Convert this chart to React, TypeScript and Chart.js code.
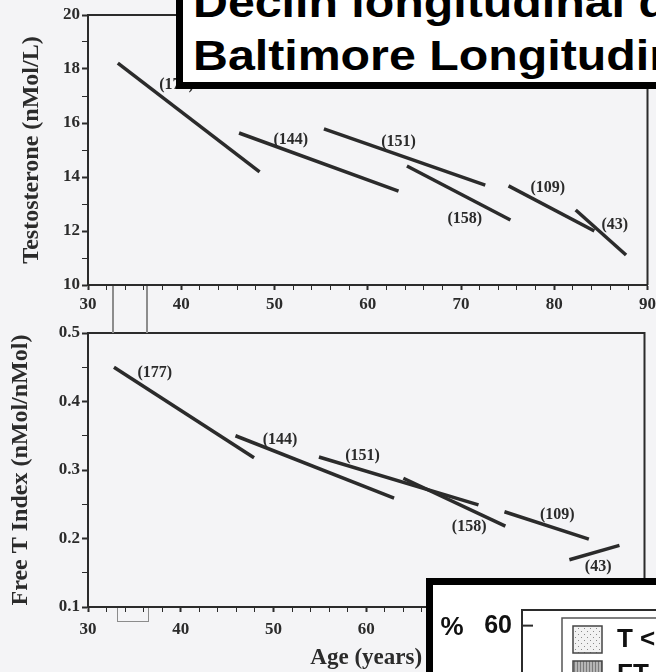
import React, { useEffect, useRef } from 'react';
import { Chart, registerables } from 'chart.js';

Chart.register(...registerables);

// ---------- data ----------
const cohortLabels = ['(177)', '(144)', '(151)', '(158)', '(109)', '(43)'];

// Testosterone panel (age in years, T in nMol/L)
const tStartAge = [33.2, 46.2, 55.3, 64.2, 75.1, 82.3];
const tEndAge = [48.4, 63.3, 72.6, 75.3, 84.3, 87.7];
const tStart = [18.22, 15.63, 15.78, 14.41, 13.67, 12.78];
const tEnd = [14.19, 13.48, 13.7, 12.41, 12.0, 11.11];
const tLabelAge = [39.5, 51.75, 63.3, 70.4, 79.3, 86.5];
const tLabelValue = [17.41, 15.37, 15.3, 12.44, 13.59, 12.22];

// Free T index panel (nMol/nMol)
const fStartAge = [32.8, 45.9, 54.9, 64.0, 74.9, 81.9];
const fEndAge = [47.9, 63.0, 72.1, 75.0, 84.0, 87.3];
const fStart = [0.45, 0.35, 0.319, 0.288, 0.239, 0.169];
const fEnd = [0.318, 0.259, 0.249, 0.218, 0.199, 0.19];
const fLabelAge = [37.2, 50.7, 59.6, 71.1, 80.6, 85.0];
const fLabelValue = [0.4416, 0.344, 0.32, 0.217, 0.234, 0.158];

const ageTickLabels = [30, 40, 50, 60, 70, 80, 90];
const tTickLabels = [10, 12, 14, 16, 18, 20];
const fTickLabels = [0.1, 0.2, 0.3, 0.4, 0.5];

const titleLines = ['Declin longitudinal de la testostérone', 'Baltimore Longitudinal Study of Aging'];
const insetSeries = ['T <', 'FT <'];
const insetTickLabels = [60];

// ---------- styles ----------
const INK = '#2b2b2b';
const BG = '#f4f4f6';
const SERIF = 'Liberation Serif';
const SANS = 'Liberation Sans';

const framePlugin = {
  id: 'frame',
  afterDraw(chart: any) {
    const { ctx, chartArea: a } = chart;
    ctx.save();
    ctx.strokeStyle = INK;
    ctx.lineWidth = 2;
    ctx.beginPath();
    ctx.moveTo(a.left, a.top);
    ctx.lineTo(a.right, a.top);
    ctx.lineTo(a.right, a.bottom);
    ctx.stroke();
    ctx.restore();
  },
};

const cohortLabelPlugin = {
  id: 'cohortLabels',
  afterDatasetsDraw(chart: any, _args: any, opts: any) {
    if (!opts || !opts.texts) return;
    const { ctx } = chart;
    const x = chart.scales.x;
    const y = chart.scales.y;
    ctx.save();
    ctx.font = `bold 16px "${SERIF}"`;
    ctx.fillStyle = INK;
    ctx.textAlign = 'center';
    ctx.textBaseline = 'middle';
    opts.texts.forEach((t: string, i: number) => {
      ctx.fillText(t, x.getPixelForValue(opts.ages[i]), y.getPixelForValue(opts.values[i]));
    });
    ctx.restore();
  },
};

const near = (list: number[], v: number) => list.some((t) => Math.abs(t - v) < 1e-6);

type PanelProps = {
  top: number;
  height: number;
  startAges: number[];
  endAges: number[];
  starts: number[];
  ends: number[];
  labelAges: number[];
  labelValues: number[];
  yMin: number;
  yMax: number;
  yStep: number;
  yLabels: number[];
  yDecimals: number;
  yTitle: string;
  yTitlePad: number;
  xTitle: string | null;
  padTop: number;
  xHeight: number;
  xLabelPad: number;
};

const PANEL_W = 660;

function Panel(p: PanelProps) {
  const ref = useRef<HTMLCanvasElement | null>(null);
  useEffect(() => {
    if (!ref.current) return;
    const tickFont = { family: SERIF, size: 17, weight: 'bold' as const };
    const chart = new Chart(ref.current, {
      type: 'line',
      data: {
        datasets: p.startAges.map((sa, i) => ({
          label: cohortLabels[i],
          data: [
            { x: sa, y: p.starts[i] },
            { x: p.endAges[i], y: p.ends[i] },
          ],
          borderColor: INK,
          borderWidth: 3.5,
          pointRadius: 0,
          fill: false,
          tension: 0,
        })),
      },
      options: {
        responsive: false,
        animation: false,
        layout: { padding: { top: p.padTop, right: 4, left: 0, bottom: 0 } },
        plugins: {
          legend: { display: false },
          tooltip: { enabled: false },
          cohortLabels: { texts: cohortLabels, ages: p.labelAges, values: p.labelValues },
        } as any,
        scales: {
          x: {
            type: 'linear',
            min: 30,
            max: 90,
            ticks: {
              stepSize: 2,
              autoSkip: false,
              maxRotation: 0,
              minRotation: 0,
              padding: p.xLabelPad,
              color: INK,
              font: tickFont,
              callback: (v: any) => (near(ageTickLabels, Number(v)) ? String(v) : ''),
            },
            grid: {
              drawOnChartArea: false,
              drawTicks: true,
              tickLength: 5,
              tickColor: INK,
              tickWidth: (c: any) => (near(ageTickLabels, c.tick?.value) ? 2 : 1),
            },
            border: { color: INK, width: 2 },
            title: p.xTitle
              ? {
                  display: true,
                  text: p.xTitle,
                  color: INK,
                  font: { family: SERIF, size: 23, weight: 'bold' },
                  padding: { top: 0, bottom: 0 },
                }
              : { display: false },
            afterFit: (s: any) => {
              s.height = p.xHeight;
            },
          } as any,
          y: {
            type: 'linear',
            min: p.yMin,
            max: p.yMax,
            ticks: {
              stepSize: p.yStep,
              autoSkip: false,
              padding: 2,
              color: INK,
              font: tickFont,
              callback: (v: any) => (near(p.yLabels, Number(v)) ? Number(v).toFixed(p.yDecimals) : ''),
            },
            grid: {
              drawOnChartArea: false,
              drawTicks: true,
              tickLength: 6,
              tickColor: INK,
              tickWidth: (c: any) => (near(p.yLabels, c.tick?.value) ? 2 : 1),
            },
            border: { color: INK, width: 2 },
            title: {
              display: true,
              text: p.yTitle,
              color: INK,
              font: { family: SERIF, size: 24, weight: 'bold' },
              padding: { top: p.yTitlePad, bottom: 0 },
            },
            afterFit: (s: any) => {
              s.width = 88;
            },
          } as any,
        },
      },
      plugins: [framePlugin, cohortLabelPlugin],
    });
    return () => chart.destroy();
  }, []);
  return (
    <canvas
      ref={ref}
      width={PANEL_W}
      height={p.height}
      style={{ position: 'absolute', left: 0, top: p.top, width: PANEL_W, height: p.height }}
    />
  );
}

function makePattern(kind: 'dots' | 'stripes') {
  const c = document.createElement('canvas');
  const g = c.getContext('2d')!;
  if (kind === 'dots') {
    c.width = 6;
    c.height = 6;
    g.fillStyle = '#f2f2f2';
    g.fillRect(0, 0, 6, 6);
    g.fillStyle = '#8a8a8a';
    g.fillRect(1, 1, 1, 1);
    g.fillRect(4, 4, 1, 1);
  } else {
    c.width = 3;
    c.height = 3;
    g.fillStyle = '#b5b5b5';
    g.fillRect(0, 0, 3, 3);
    g.fillStyle = '#7a7a7a';
    g.fillRect(0, 0, 1, 3);
  }
  return g.createPattern(c, 'repeat');
}

const insetLegendPlugin = {
  id: 'insetLegend',
  afterDraw(chart: any) {
    const { ctx, chartArea: a } = chart;
    const y = chart.scales.y;
    ctx.save();
    // inward tick marks
    ctx.strokeStyle = INK;
    ctx.lineWidth = 2;
    y.ticks.forEach((t: any) => {
      const py = y.getPixelForValue(t.value);
      ctx.beginPath();
      ctx.moveTo(a.left, py);
      ctx.lineTo(a.left + 11, py);
      ctx.stroke();
    });
    // "%" unit label
    ctx.fillStyle = '#111';
    ctx.font = `bold 26px "${SANS}"`;
    ctx.textAlign = 'center';
    ctx.textBaseline = 'middle';
    ctx.fillText('%', 19, y.getPixelForValue(insetTickLabels[0]) + 2);
    // legend box
    const bx = a.left + 40;
    const by = a.top + 8;
    ctx.strokeStyle = '#555';
    ctx.lineWidth = 1.5;
    ctx.strokeRect(bx, by, 400, 200);
    chart.data.datasets.forEach((ds: any, i: number) => {
      const sx = bx + 11;
      const sy = by + 8 + i * 35;
      ctx.fillStyle = ds.backgroundColor;
      ctx.fillRect(sx, sy, 29, 27);
      ctx.strokeStyle = '#444';
      ctx.lineWidth = 1.5;
      ctx.strokeRect(sx, sy, 29, 27);
      ctx.fillStyle = '#111';
      ctx.textAlign = 'left';
      ctx.font = `bold 26px "${SANS}"`;
      ctx.fillText(ds.label, sx + 44, sy + 14);
    });
    ctx.restore();
  },
};

function Inset() {
  const ref = useRef<HTMLCanvasElement | null>(null);
  useEffect(() => {
    if (!ref.current) return;
    const patterns = [makePattern('dots'), makePattern('stripes')];
    const chart = new Chart(ref.current, {
      type: 'bar',
      data: {
        labels: [],
        datasets: insetSeries.map((s, i) => ({ label: s, data: [], backgroundColor: patterns[i] as any })),
      },
      options: {
        responsive: false,
        animation: false,
        layout: { padding: { top: 17, right: 0, left: 0, bottom: 15 } },
        plugins: { legend: { display: false }, tooltip: { enabled: false } },
        scales: {
          x: { display: false },
          y: {
            min: 0,
            max: 64,
            ticks: {
              stepSize: 20,
              includeBounds: false,
              padding: 10,
              color: '#111',
              font: { family: SANS, size: 25, weight: 'bold' },
            },
            afterBuildTicks: (s: any) => {
              s.ticks = s.ticks.filter((t: any) => near(insetTickLabels, t.value));
            },
            grid: { display: false, drawTicks: false, tickLength: 0 },
            border: { display: true, color: INK, width: 2 },
            afterFit: (s: any) => {
              s.width = 89;
            },
          } as any,
        },
      },
      plugins: [framePlugin, insetLegendPlugin],
    });
    return () => chart.destroy();
  }, []);
  return <canvas ref={ref} width={300} height={300} style={{ position: 'absolute', left: 0, top: 0 }} />;
}

export default function App() {
  const artifact = '#8c8c8c';
  return (
    <div
      style={{
        position: 'fixed',
        left: 0,
        top: 0,
        width: 656,
        height: 672,
        overflow: 'hidden',
        background: BG,
      }}
    >
      <Panel
        top={0}
        height={320}
        startAges={tStartAge}
        endAges={tEndAge}
        starts={tStart}
        ends={tEnd}
        labelAges={tLabelAge}
        labelValues={tLabelValue}
        yMin={10}
        yMax={20}
        yStep={1}
        yLabels={tTickLabels}
        yDecimals={0}
        yTitle="Testosterone (nMol/L)"
        yTitlePad={17}
        xTitle={null}
        padTop={15}
        xHeight={35}
        xLabelPad={4}
      />
      <Panel
        top={320}
        height={352}
        startAges={fStartAge}
        endAges={fEndAge}
        starts={fStart}
        ends={fEnd}
        labelAges={fLabelAge}
        labelValues={fLabelValue}
        yMin={0.1}
        yMax={0.5}
        yStep={0.05}
        yLabels={fTickLabels}
        yDecimals={1}
        yTitle="Free T Index (nMol/nMol)"
        yTitlePad={6}
        xTitle="Age (years)"
        padTop={13}
        xHeight={65}
        xLabelPad={7}
      />
      {/* scan artefacts between the panels */}
      <div style={{ position: 'absolute', left: 112, top: 286, width: 1.5, height: 47, background: artifact }} />
      <div style={{ position: 'absolute', left: 146, top: 286, width: 1.5, height: 47, background: artifact }} />
      <div
        style={{
          position: 'absolute',
          left: 117,
          top: 608,
          width: 30,
          height: 13,
          borderLeft: `1.5px solid ${artifact}`,
          borderRight: `1.5px solid ${artifact}`,
          borderBottom: `1.5px solid ${artifact}`,
        }}
      />
      {/* title box */}
      <div
        style={{
          position: 'absolute',
          left: 176,
          top: -31,
          width: 560,
          height: 106,
          border: '7px solid #000',
          background: '#fff',
          overflow: 'hidden',
        }}
      >
        <div
          style={{
            position: 'absolute',
            left: 10,
            top: 0,
            font: `bold 42px "${SANS}"`,
            lineHeight: '53px',
            whiteSpace: 'nowrap',
            color: '#000',
            transform: 'scaleX(1.15)',
            transformOrigin: '0 0',
          }}
        >
          {titleLines.map((l, i) => (
            <div key={i}>{l}</div>
          ))}
        </div>
      </div>
      {/* inset chart box */}
      <div
        style={{
          position: 'absolute',
          left: 426,
          top: 578,
          width: 400,
          height: 300,
          border: '7px solid #000',
          background: '#fff',
          overflow: 'hidden',
        }}
      >
        <Inset />
      </div>
    </div>
  );
}
